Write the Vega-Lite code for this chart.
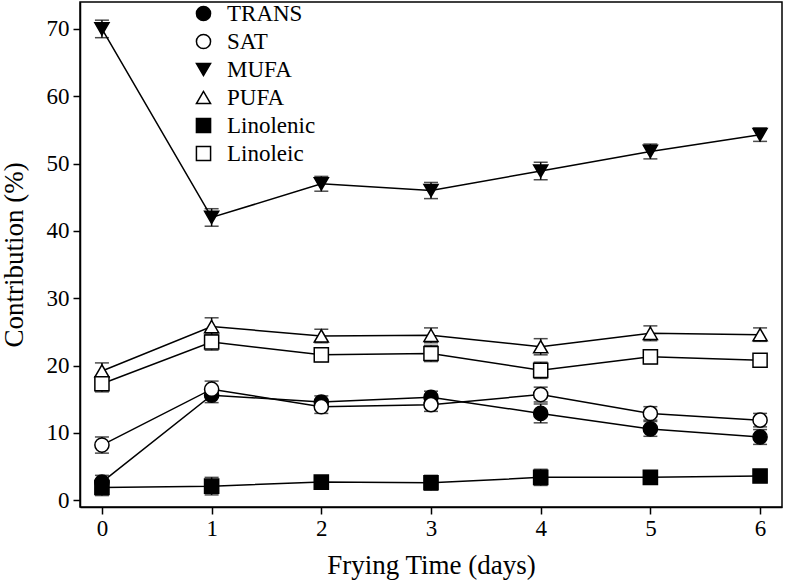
{
  "$schema": "https://vega.github.io/schema/vega-lite/v6.json",
  "width": 702,
  "height": 505,
  "autosize": "none",
  "padding": {"left": 80, "top": 2, "right": 4, "bottom": 73},
  "background": "white",
  "config": {
    "font": "Liberation Serif",
    "view": {"stroke": "black", "strokeWidth": 1.5},
    "axis": {
      "grid": false,
      "domainColor": "black",
      "domainWidth": 1.5,
      "tickColor": "black",
      "tickWidth": 1.5,
      "tickSize": 7,
      "labelColor": "black",
      "labelFont": "Liberation Serif",
      "labelFontSize": 23,
      "titleColor": "black",
      "titleFont": "Liberation Serif",
      "titleFontSize": 27,
      "titleFontWeight": "normal"
    },
    "legend": {
      "labelFont": "Liberation Serif",
      "labelFontSize": 23,
      "labelColor": "black"
    }
  },
  "data": {
    "values": [
      {"series": "TRANS", "day": 0, "v": 2.7, "e": 1.0},
      {"series": "TRANS", "day": 1, "v": 15.6, "e": 1.1},
      {"series": "TRANS", "day": 2, "v": 14.6, "e": 0.9},
      {"series": "TRANS", "day": 3, "v": 15.3, "e": 0.9},
      {"series": "TRANS", "day": 4, "v": 12.9, "e": 1.4},
      {"series": "TRANS", "day": 5, "v": 10.6, "e": 1.1},
      {"series": "TRANS", "day": 6, "v": 9.4, "e": 1.1},
      {"series": "SAT", "day": 0, "v": 8.2, "e": 1.2},
      {"series": "SAT", "day": 1, "v": 16.5, "e": 1.2},
      {"series": "SAT", "day": 2, "v": 13.9, "e": 1.0},
      {"series": "SAT", "day": 3, "v": 14.2, "e": 1.0},
      {"series": "SAT", "day": 4, "v": 15.7, "e": 1.1},
      {"series": "SAT", "day": 5, "v": 12.9, "e": 1.0},
      {"series": "SAT", "day": 6, "v": 11.9, "e": 1.0},
      {"series": "MUFA", "day": 0, "v": 70.0, "e": 1.3},
      {"series": "MUFA", "day": 1, "v": 42.0, "e": 1.3},
      {"series": "MUFA", "day": 2, "v": 47.0, "e": 1.1},
      {"series": "MUFA", "day": 3, "v": 46.0, "e": 1.2},
      {"series": "MUFA", "day": 4, "v": 48.9, "e": 1.3},
      {"series": "MUFA", "day": 5, "v": 51.8, "e": 1.1},
      {"series": "MUFA", "day": 6, "v": 54.3, "e": 1.0},
      {"series": "PUFA", "day": 0, "v": 19.2, "e": 1.2},
      {"series": "PUFA", "day": 1, "v": 25.8, "e": 1.3},
      {"series": "PUFA", "day": 2, "v": 24.4, "e": 1.0},
      {"series": "PUFA", "day": 3, "v": 24.5, "e": 1.1},
      {"series": "PUFA", "day": 4, "v": 22.8, "e": 1.2},
      {"series": "PUFA", "day": 5, "v": 24.8, "e": 1.1},
      {"series": "PUFA", "day": 6, "v": 24.6, "e": 1.0},
      {"series": "Linolenic", "day": 0, "v": 1.9, "e": 1.2},
      {"series": "Linolenic", "day": 1, "v": 2.1, "e": 1.3},
      {"series": "Linolenic", "day": 2, "v": 2.7, "e": 0.8},
      {"series": "Linolenic", "day": 3, "v": 2.6, "e": 1.1},
      {"series": "Linolenic", "day": 4, "v": 3.4, "e": 1.2},
      {"series": "Linolenic", "day": 5, "v": 3.4, "e": 0.6},
      {"series": "Linolenic", "day": 6, "v": 3.6, "e": 0.5},
      {"series": "Linoleic", "day": 0, "v": 17.3, "e": 1.2},
      {"series": "Linoleic", "day": 1, "v": 23.5, "e": 1.2},
      {"series": "Linoleic", "day": 2, "v": 21.6, "e": 1.0},
      {"series": "Linoleic", "day": 3, "v": 21.8, "e": 1.2},
      {"series": "Linoleic", "day": 4, "v": 19.3, "e": 1.2},
      {"series": "Linoleic", "day": 5, "v": 21.3, "e": 1.0},
      {"series": "Linoleic", "day": 6, "v": 20.8, "e": 0.6}
    ]
  },
  "encoding": {
    "x": {
      "field": "day",
      "type": "quantitative",
      "scale": {"domain": [-0.2, 6.2], "nice": false, "zero": false},
      "axis": {
        "title": "Frying Time (days)",
        "values": [0, 1, 2, 3, 4, 5, 6],
        "format": "d",
        "labelPadding": 3,
        "titlePadding": 12
      }
    }
  },
  "layer": [
    {
      "mark": {"type": "line", "color": "black", "strokeWidth": 1.5},
      "encoding": {
        "y": {
          "field": "v",
          "type": "quantitative",
          "title": "Contribution (%)",
          "scale": {"domain": [-1, 74], "nice": false, "zero": false},
          "axis": {
            "values": [0, 10, 20, 30, 40, 50, 60, 70],
            "labelPadding": 4,
            "titlePadding": 18
          }
        },
        "detail": {"field": "series"}
      }
    },
    {
      "mark": {
        "type": "errorbar",
        "color": "black",
        "ticks": {"size": 14, "thickness": 1.5, "color": "black"},
        "rule": {"strokeWidth": 1.5, "color": "black"}
      },
      "encoding": {
        "y": {"field": "v", "type": "quantitative", "title": "Contribution (%)"},
        "yError": {"field": "e"}
      }
    },
    {
      "mark": {
        "type": "point",
        "filled": true,
        "stroke": "black",
        "strokeWidth": 1.5,
        "opacity": 1,
        "fillOpacity": 1,
        "size": 200
      },
      "encoding": {
        "y": {"field": "v", "type": "quantitative", "title": "Contribution (%)"},
        "shape": {
          "field": "series",
          "type": "nominal",
          "scale": {
            "domain": ["TRANS", "SAT", "MUFA", "PUFA", "Linolenic", "Linoleic"],
            "range": ["circle", "circle", "triangle-down", "triangle-up", "square", "square"]
          },
          "legend": {
            "title": null,
            "orient": "none",
            "legendX": 112,
            "legendY": 0,
            "padding": 0,
            "symbolSize": 200,
            "labelOffset": 12,
            "rowPadding": 4,
            "encode": {
              "symbols": {
                "update": {
                  "stroke": {"value": "black"},
                  "strokeWidth": {"value": 1.5}
                }
              }
            }
          }
        },
        "fill": {
          "field": "series",
          "type": "nominal",
          "scale": {
            "domain": ["TRANS", "SAT", "MUFA", "PUFA", "Linolenic", "Linoleic"],
            "range": ["black", "white", "black", "white", "black", "white"]
          },
          "legend": {
            "title": null,
            "orient": "none",
            "legendX": 112,
            "legendY": 0,
            "padding": 0,
            "symbolSize": 200,
            "labelOffset": 12,
            "rowPadding": 4,
            "encode": {
              "symbols": {
                "update": {
                  "stroke": {"value": "black"},
                  "strokeWidth": {"value": 1.5}
                }
              }
            }
          }
        }
      }
    }
  ]
}
